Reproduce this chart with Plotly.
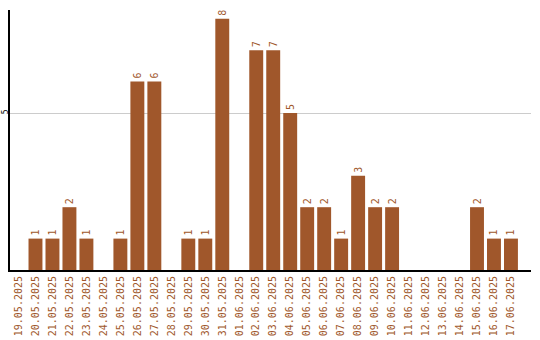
import plotly.graph_objects as go

dates = ["19.05.2025","20.05.2025","21.05.2025","22.05.2025","23.05.2025","24.05.2025",
         "25.05.2025","26.05.2025","27.05.2025","28.05.2025","29.05.2025","30.05.2025",
         "31.05.2025","01.06.2025","02.06.2025","03.06.2025","04.06.2025","05.06.2025",
         "06.06.2025","07.06.2025","08.06.2025","09.06.2025","10.06.2025","11.06.2025",
         "12.06.2025","13.06.2025","14.06.2025","15.06.2025","16.06.2025","17.06.2025"]
values = [0,1,1,2,1,0,1,6,6,0,1,1,8,0,7,7,5,2,2,1,3,2,2,0,0,0,0,2,1,1]

color = "#A0572B"
labels = [str(v) if v else "" for v in values]

fig = go.Figure(go.Bar(
    x=list(range(len(dates))), y=values, marker_color=color, marker_line_width=0,
    text=labels, textposition="outside", textangle=-90, cliponaxis=False,
    textfont=dict(family="DejaVu Sans Mono", size=10, color=color),
))
fig.update_layout(
    width=540, height=340, margin=dict(l=10, r=9, t=10, b=70),
    paper_bgcolor="white", plot_bgcolor="white", bargap=0.18, showlegend=False,
    font=dict(family="DejaVu Sans Mono", size=10),
)
fig.update_xaxes(
    range=[-0.5, 30.18], tickmode="array", tickvals=list(range(len(dates))), ticktext=dates,
    tickangle=-90, tickfont=dict(color=color, size=10, family="DejaVu Sans Mono"),
    showline=True, linecolor="black", linewidth=2, showgrid=False, ticks="", zeroline=False,
    automargin=False,
)
fig.update_yaxes(
    range=[0, 8.28], tickvals=[5], ticktext=["5"], tickangle=-90,
    tickfont=dict(color="black", size=8, family="DejaVu Sans Mono"),
    showline=True, linecolor="black", linewidth=2, showgrid=True, gridcolor="#cccccc",
    gridwidth=1, ticks="", zeroline=False, automargin=False, ticklabelstandoff=-3,
)
fig.write_html("out.html")
